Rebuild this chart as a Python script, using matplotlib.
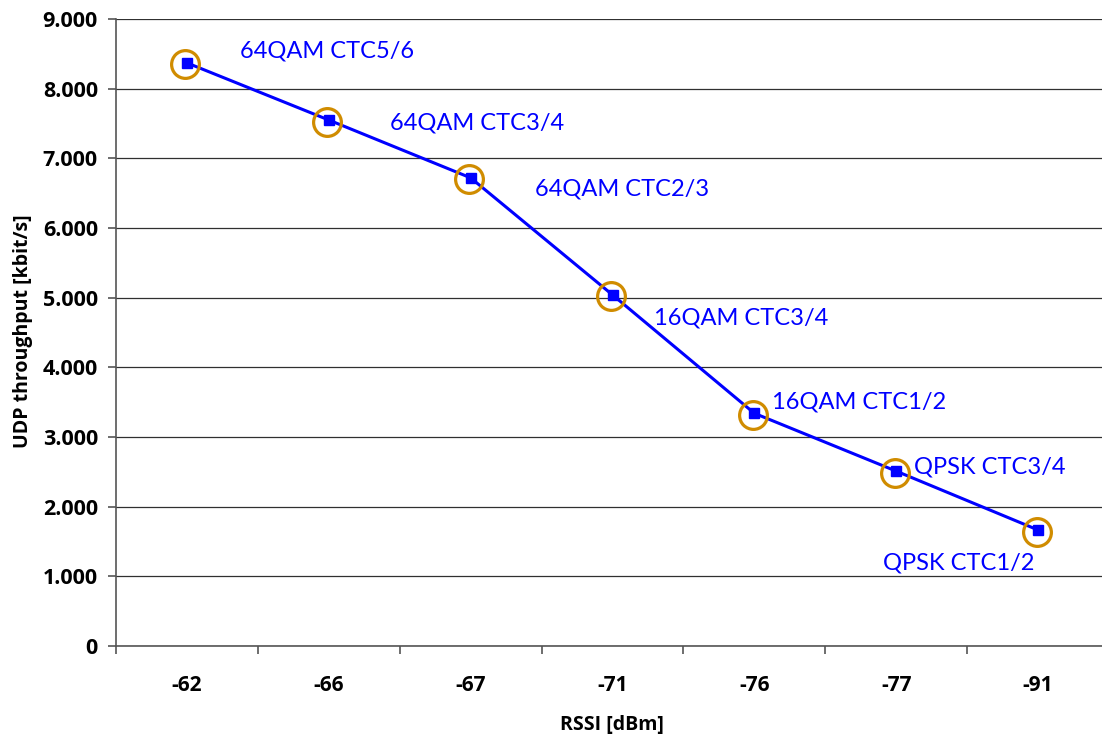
import matplotlib
matplotlib.use("Agg")
import matplotlib.pyplot as plt
import matplotlib.transforms as mtransforms
from matplotlib.ticker import FuncFormatter, FixedLocator

# RSSI categories and measured UDP throughput
rssi_labels = ["-62", "-66", "-67", "-71", "-76", "-77", "-91"]
throughput = [8370, 7550, 6720, 5040, 3340, 2510, 1665]
modulation = ["64QAM CTC5/6", "64QAM CTC3/4", "64QAM CTC2/3", "16QAM CTC3/4",
              "16QAM CTC1/2", "QPSK CTC3/4", "QPSK CTC1/2"]
y_ticks = [0, 1000, 2000, 3000, 4000, 5000, 6000, 7000, 8000, 9000]

# label offsets in points relative to each point
label_offsets = [(38, 8.5), (44, -2), (46, -8), (30, -17), (13, 8), (13, 3), (-112, -24)]

fig = plt.figure(figsize=(11.02, 7.38), dpi=100)
ax = fig.add_axes([116 / 1102, 92 / 738, 993 / 1102, 627 / 738])

x = list(range(len(rssi_labels)))
ax.plot(x, throughput, color="#0000FF", lw=2.2, marker="s", ms=7,
        mfc="#0000FF", mec="#0000FF", zorder=4)

# highlight rings, nudged slightly left of and below the squares
shift = mtransforms.ScaledTranslation(-1.5 / 100, -1.5 / 100, fig.dpi_scale_trans)
ax.plot(x, throughput, ls="none", marker="o", ms=20, mfc="none",
        mec="#D08C00", mew=2.3, zorder=5, transform=ax.transData + shift)

for xi, yi, txt, (dx, dy) in zip(x, throughput, modulation, label_offsets):
    ax.annotate(txt, (xi, yi), xytext=(dx, dy), textcoords="offset points",
                color="#0000FF", fontsize=17, family="Lato",
                ha="left", va="center", zorder=6)

ax.set_xlim(-0.5, len(rssi_labels) - 0.5)
ax.set_ylim(0, 9000)
ax.set_yticks(y_ticks)
ax.yaxis.set_major_formatter(FuncFormatter(lambda v, p: f"{int(v):,}".replace(",", ".")))
ax.set_xticks(x)
ax.set_xticklabels(rssi_labels)
ax.xaxis.set_minor_locator(FixedLocator([i - 0.5 for i in range(len(rssi_labels) + 1)]))

ax.grid(axis="y", color="#303030", lw=0.9)
ax.set_axisbelow(True)
for s in ["top", "right"]:
    ax.spines[s].set_visible(False)
for s in ["left", "bottom"]:
    ax.spines[s].set_color("#555555")
    ax.spines[s].set_linewidth(1.2)

ax.tick_params(axis="y", direction="out", length=6, width=1.2, color="#555555",
               pad=7, labelsize=15.5)
ax.tick_params(axis="x", which="major", length=0, pad=21, labelsize=15)
ax.tick_params(axis="x", which="minor", direction="out", length=6, width=1.2,
               color="#555555")
for lab in ax.get_xticklabels() + ax.get_yticklabels():
    lab.set_fontweight("bold")
    lab.set_family("Open Sans")

ax.set_ylabel("UDP throughput [kbit/s]", fontsize=14, fontweight="bold",
              family="Open Sans")
ax.yaxis.set_label_coords(-83 / 993, 0.502)
fig.text(612 / 1102, 1 - 725 / 738, "RSSI [dBm]", fontsize=14, fontweight="bold",
         family="Open Sans", ha="center", va="center")

fig.savefig("out.png", dpi=100)
